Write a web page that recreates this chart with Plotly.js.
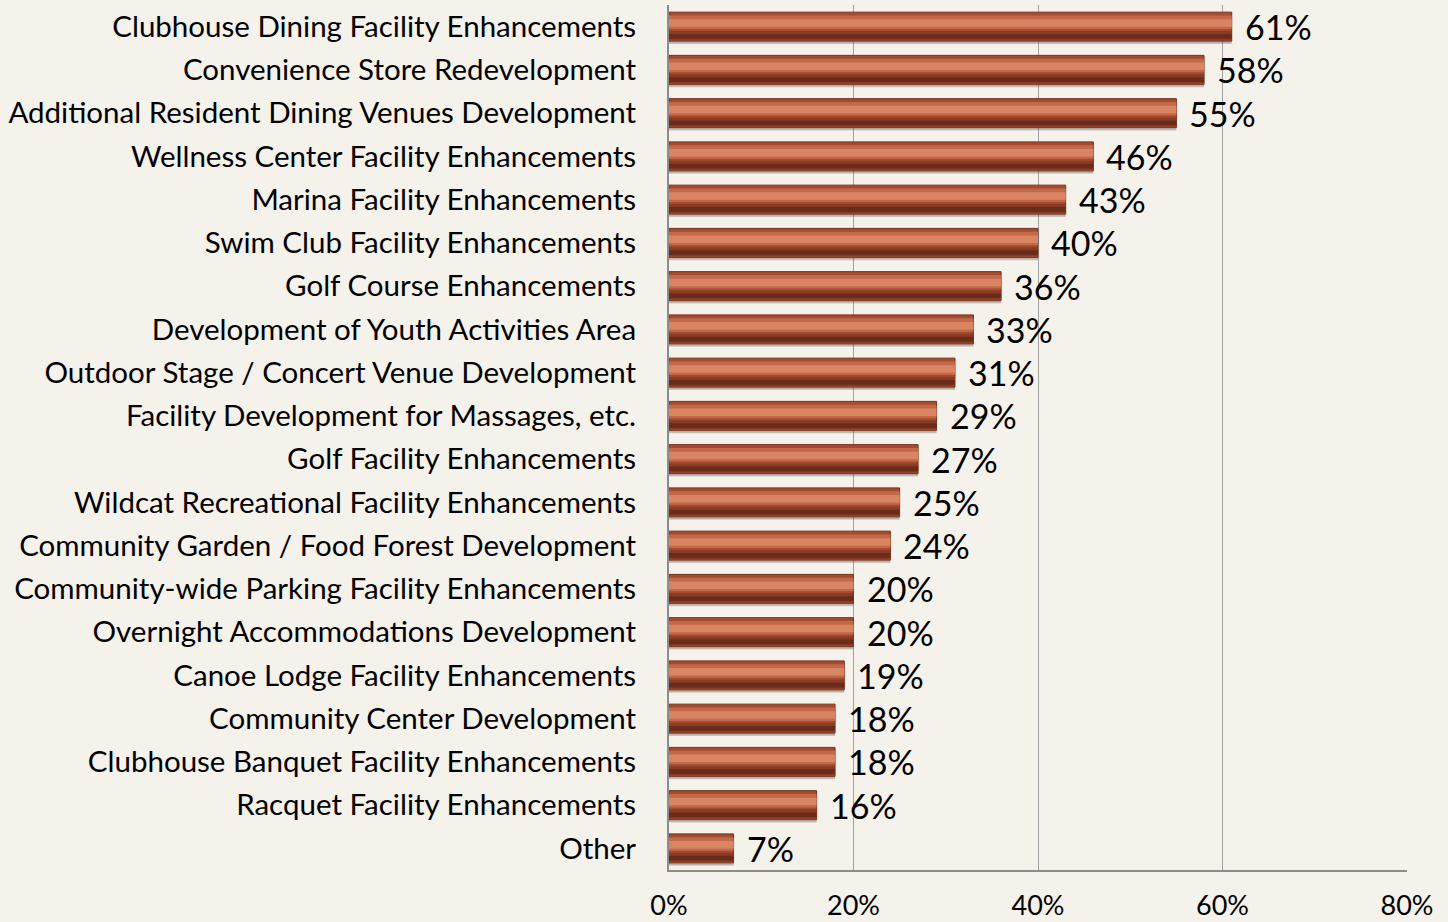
<!DOCTYPE html>
<html><head><meta charset="utf-8">
<script src="https://cdn.plot.ly/plotly-3.0.1.min.js"></script>
<style>html,body{margin:0;padding:0;background:#F5F1EB;}#chart{width:1448px;height:922px;}</style>
</head><body><div id="chart"></div>
<script>
const categories = [
  "Clubhouse Dining Facility Enhancements",
  "Convenience Store Redevelopment",
  "Additional Resident Dining Venues Development",
  "Wellness Center Facility Enhancements",
  "Marina Facility Enhancements",
  "Swim Club Facility Enhancements",
  "Golf Course Enhancements",
  "Development of Youth Activities Area",
  "Outdoor Stage / Concert Venue Development",
  "Facility Development for Massages, etc.",
  "Golf Facility Enhancements",
  "Wildcat Recreational Facility Enhancements",
  "Community Garden / Food Forest Development",
  "Community-wide Parking Facility Enhancements",
  "Overnight Accommodations Development",
  "Canoe Lodge Facility Enhancements",
  "Community Center Development",
  "Clubhouse Banquet Facility Enhancements",
  "Racquet Facility Enhancements",
  "Other"
];
const values = [61, 58, 55, 46, 43, 40, 36, 33, 31, 29, 27, 25, 24, 20, 20, 19, 18, 18, 16, 7];
const valueLabels = values.map(v => v + "%");
const xTickVals = [0, 20, 40, 60, 80];
const xTickText = ["0%", "20%", "40%", "60%", "80%"];

const font = "Lato, 'Open Sans', sans-serif";

function layer(offset, width, color, line) {
  return {
    type: "bar", orientation: "h", x: values, y: categories,
    width: width, offset: offset,
    marker: {color: color, line: line || {width: 0}},
    hoverinfo: "skip"
  };
}

const traces = [
  layer(0.30, 0.10, "rgba(95,90,85,0.28)"),
  layer(0.335, 0.05, "rgba(95,90,85,0.18)"),
  layer(-0.335, 0.67, "#A54C30", {color: "#7A3018", width: 1}),
  layer(-0.255, 0.31, "#C2694A"),
  layer(-0.17, 0.17, "#D98563"),
  layer(0.10, 0.21, "#8A3B24"),
  layer(0.17, 0.11, "#6A2C1A")
];

const annotations = values.map((v, i) => ({
  x: v, y: categories[i], xref: "x", yref: "y",
  text: valueLabels[i], showarrow: false,
  xanchor: "left", yanchor: "middle", xshift: 11, yshift: 0,
  font: {family: font, size: 34, color: "#000"}
}));

const layout = {
  width: 1448, height: 922,
  margin: {l: 669, r: 41, t: 5, b: 52},
  paper_bgcolor: "#F5F1EB", plot_bgcolor: "#F5F1EB",
  barmode: "overlay", showlegend: false,
  font: {family: font, color: "#000"},
  annotations: annotations,
  xaxis: {
    range: [0, 80], tickvals: xTickVals, ticktext: xTickText,
    showgrid: true, gridcolor: "#A0A0A0", gridwidth: 1,
    zeroline: false, showline: true, linecolor: "#8C8C8C", linewidth: 2,
    ticks: "", ticklabelstandoff: 11,
    tickfont: {family: font, size: 27, color: "#000"}
  },
  yaxis: {
    range: [19.5, -0.5], showgrid: false, zeroline: false,
    showline: true, linecolor: "#8C8C8C", linewidth: 2,
    ticks: "", ticklabelstandoff: 25,
    tickfont: {family: font, size: 29.5, color: "#000"}
  }
};

Plotly.newPlot("chart", traces, layout, {displayModeBar: false, staticPlot: true});
</script></body></html>
